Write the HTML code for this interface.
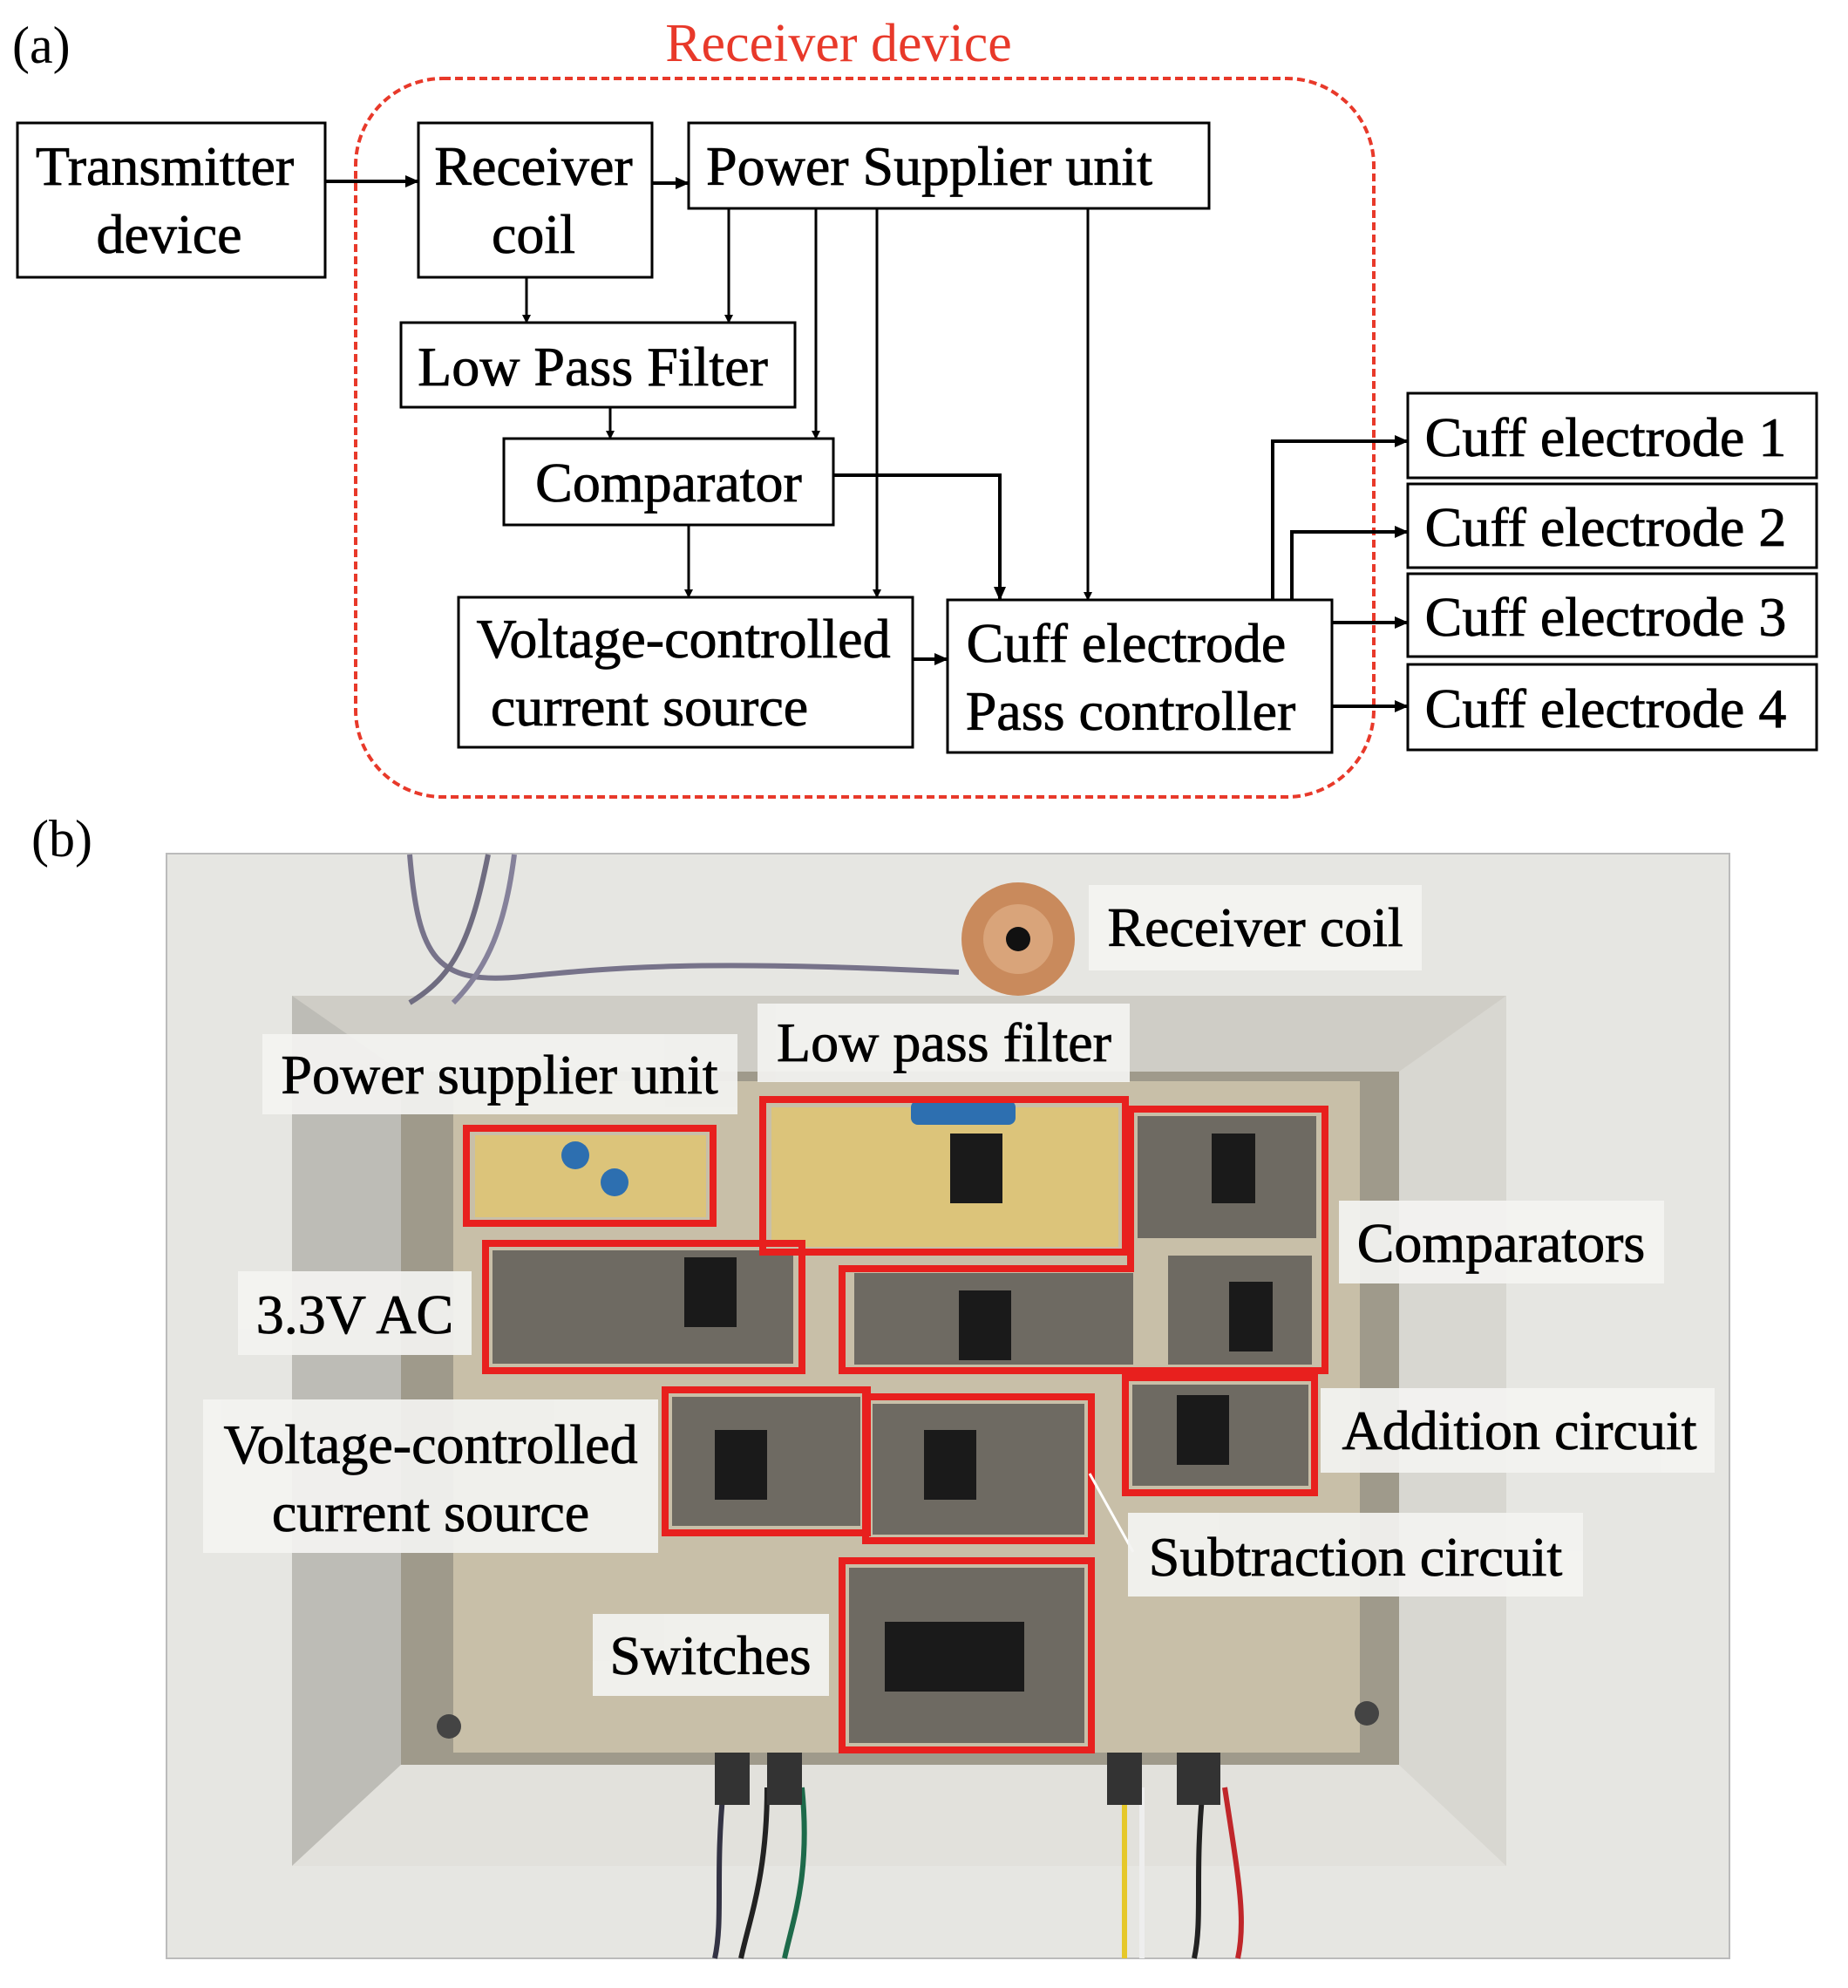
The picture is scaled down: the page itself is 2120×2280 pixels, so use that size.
<!DOCTYPE html><html><head><meta charset="utf-8"><style>body{margin:0;background:#fff}svg{display:block}text{font-family:"Liberation Serif",serif}</style></head><body>
<svg width="2120" height="2280" viewBox="0 0 2120 2280" xmlns="http://www.w3.org/2000/svg">
<defs><marker id="a" markerWidth="10" markerHeight="10" refX="9" refY="5" orient="auto" markerUnits="userSpaceOnUse"><path d="M0,0L10,5L0,10z" fill="#000"/></marker>
<marker id="b" markerWidth="16" markerHeight="14" refX="15" refY="7" orient="auto" markerUnits="userSpaceOnUse"><path d="M0,0L16,7L0,14z" fill="#000"/></marker></defs>
<text x="14" y="72" font-size="60">(a)</text>
<text x="962" y="70" font-size="62" fill="#e8392a" text-anchor="middle">Receiver device</text>
<rect x="408" y="90" width="1168" height="824" rx="100" fill="none" stroke="#e8392a" stroke-width="4" stroke-dasharray="9,5"/>
<g fill="#fff" stroke="#000" stroke-width="3">
<rect x="20" y="141" width="353" height="177"/><rect x="480" y="141" width="268" height="177"/>
<rect x="790" y="141" width="597" height="98"/><rect x="460" y="370" width="452" height="97"/>
<rect x="578" y="503" width="378" height="99"/><rect x="526" y="685" width="521" height="172"/>
<rect x="1087" y="688" width="441" height="175"/>
<rect x="1615" y="451" width="469" height="97"/><rect x="1615" y="555" width="469" height="96"/>
<rect x="1615" y="658" width="469" height="95"/><rect x="1615" y="762" width="469" height="98"/></g>
<g font-size="64" text-anchor="middle" stroke="#000" stroke-width="0.8">
<text x="189" y="212">Transmitter</text><text x="194" y="290">device</text>
<text x="612" y="212">Receiver</text><text x="612" y="290">coil</text>
<text x="1066" y="212">Power Supplier unit</text>
<text x="680" y="442">Low Pass Filter</text>
<text x="767" y="575">Comparator</text>
<text x="784" y="754">Voltage-controlled</text><text x="745" y="832">current source</text>
<text x="1292" y="759">Cuff electrode</text><text x="1297" y="837">Pass controller</text>
<text x="1842" y="523">Cuff electrode 1</text><text x="1842" y="626">Cuff electrode 2</text>
<text x="1842" y="729">Cuff electrode 3</text><text x="1842" y="834">Cuff electrode 4</text></g>
<g stroke="#000" stroke-width="3" fill="none" marker-end="url(#a)">
<path d="M604 318V370"/><path d="M836 239V370"/><path d="M936 239V503"/><path d="M1006 239V685"/><path d="M1248 239V688"/>
<path d="M700 467V503"/><path d="M790 602V685"/></g>
<g stroke="#000" stroke-width="4" fill="none" marker-end="url(#b)">
<path d="M373 208H480"/><path d="M748 210H790"/><path d="M956 545H1147V688"/><path d="M1047 756H1087"/>
<path d="M1460 688V506H1615"/><path d="M1482 688V610H1615"/><path d="M1528 714H1615"/><path d="M1528 810H1615"/></g>
<text x="36" y="982" font-size="60">(b)</text>
<rect x="191" y="979" width="1793" height="1267" fill="#e6e6e2" stroke="#bbb" stroke-width="2"/>
<path d="M335 1142L1728 1142L1728 2140L335 2140Z" fill="#cfcdc6"/>
<path d="M335 1142L460 1229L460 2024L335 2140Z" fill="#bdbcb6"/>
<path d="M1728 1142L1605 1229L1605 2024L1728 2140Z" fill="#d8d7d1"/>
<path d="M335 2140L460 2024L1605 2024L1728 2140Z" fill="#e2e1dc"/>
<rect x="460" y="1229" width="1145" height="795" fill="#9f9a8b"/>
<rect x="520" y="1240" width="1040" height="770" fill="#c8bfa8"/>
<g fill="none" stroke-width="6"><path d="M470 980C480 1100 500 1130 600 1120S800 1100 1100 1115" stroke="#77738a"/><path d="M560 980C540 1080 520 1120 470 1150" stroke="#6f6c80"/><path d="M590 980C580 1060 560 1110 520 1150" stroke="#85819a"/>
<path d="M830 2050C820 2150 830 2200 820 2246" stroke="#334"/><path d="M880 2050C880 2150 860 2200 850 2246" stroke="#222"/><path d="M920 2050C930 2150 910 2200 900 2246" stroke="#1d6a4a"/>
<path d="M1290 2050V2246" stroke="#e6c82a"/><path d="M1310 2050V2246" stroke="#eee"/><path d="M1380 2050C1370 2150 1380 2200 1370 2246" stroke="#222"/><path d="M1405 2050C1420 2150 1430 2200 1420 2246" stroke="#c0262a"/></g>
<g fill="#333"><rect x="820" y="2010" width="40" height="60"/><rect x="880" y="2010" width="40" height="60"/><rect x="1270" y="2010" width="40" height="60"/><rect x="1350" y="2010" width="50" height="60"/></g>
<circle cx="1168" cy="1077" r="65" fill="#c98a5c"/><circle cx="1168" cy="1077" r="40" fill="#d9a47a"/><circle cx="1168" cy="1077" r="14" fill="#111"/>
<circle cx="515" cy="1980" r="14" fill="#444"/><circle cx="1568" cy="1965" r="14" fill="#444"/>
<g fill="#dcc47a"><rect x="545" y="1302" width="265" height="94"/><rect x="885" y="1270" width="398" height="160"/></g>
<g fill="#6e6a62"><rect x="1305" y="1280" width="205" height="140"/><rect x="1340" y="1440" width="165" height="125"/><rect x="980" y="1460" width="320" height="105"/><rect x="565" y="1434" width="345" height="130"/><rect x="771" y="1602" width="216" height="148"/><rect x="1001" y="1610" width="243" height="150"/><rect x="1299" y="1588" width="202" height="116"/><rect x="974" y="1798" width="270" height="201"/></g>
<g fill="#1a1a1a"><rect x="1090" y="1300" width="60" height="80"/><rect x="1390" y="1300" width="50" height="80"/><rect x="1410" y="1470" width="50" height="80"/><rect x="1100" y="1480" width="60" height="80"/><rect x="785" y="1442" width="60" height="80"/><rect x="820" y="1640" width="60" height="80"/><rect x="1060" y="1640" width="60" height="80"/><rect x="1350" y="1600" width="60" height="80"/><rect x="1015" y="1860" width="160" height="80"/></g>
<g fill="#2d6fb0"><circle cx="660" cy="1325" r="16"/><circle cx="705" cy="1356" r="16"/><rect x="1045" y="1262" width="120" height="28" rx="8"/></g>
<g fill="none" stroke="#e8201e" stroke-width="8">
<rect x="535" y="1294" width="283" height="109"/><rect x="875" y="1261" width="416" height="175"/>
<path d="M1297 1272H1520V1572H966V1455H1297Z"/><rect x="557" y="1426" width="363" height="146"/>
<rect x="763" y="1594" width="232" height="164"/><rect x="993" y="1602" width="259" height="165"/>
<rect x="1291" y="1580" width="217" height="132"/><rect x="966" y="1790" width="286" height="217"/></g>
<path d="M1250 1690L1300 1780" stroke="#fff" stroke-width="3"/>
<g fill="#f3f3f1" opacity="0.93">
<rect x="1249" y="1015" width="382" height="98"/><rect x="869" y="1151" width="427" height="90"/>
<rect x="301" y="1186" width="545" height="92"/><rect x="1536" y="1377" width="373" height="95"/>
<rect x="273" y="1458" width="268" height="96"/><rect x="233" y="1605" width="522" height="176"/>
<rect x="1515" y="1592" width="452" height="97"/><rect x="1294" y="1735" width="522" height="96"/>
<rect x="680" y="1851" width="271" height="94"/></g>
<g font-size="64" text-anchor="middle" stroke="#000" stroke-width="0.8">
<text x="1440" y="1085">Receiver coil</text><text x="1083" y="1217">Low pass filter</text>
<text x="573" y="1254">Power supplier unit</text><text x="1722" y="1447">Comparators</text>
<text x="407" y="1529">3.3V AC</text><text x="494" y="1678">Voltage-controlled</text><text x="494" y="1756">current source</text>
<text x="1743" y="1662">Addition circuit</text><text x="1555" y="1807">Subtraction circuit</text><text x="815" y="1920">Switches</text></g>
</svg></body></html>
